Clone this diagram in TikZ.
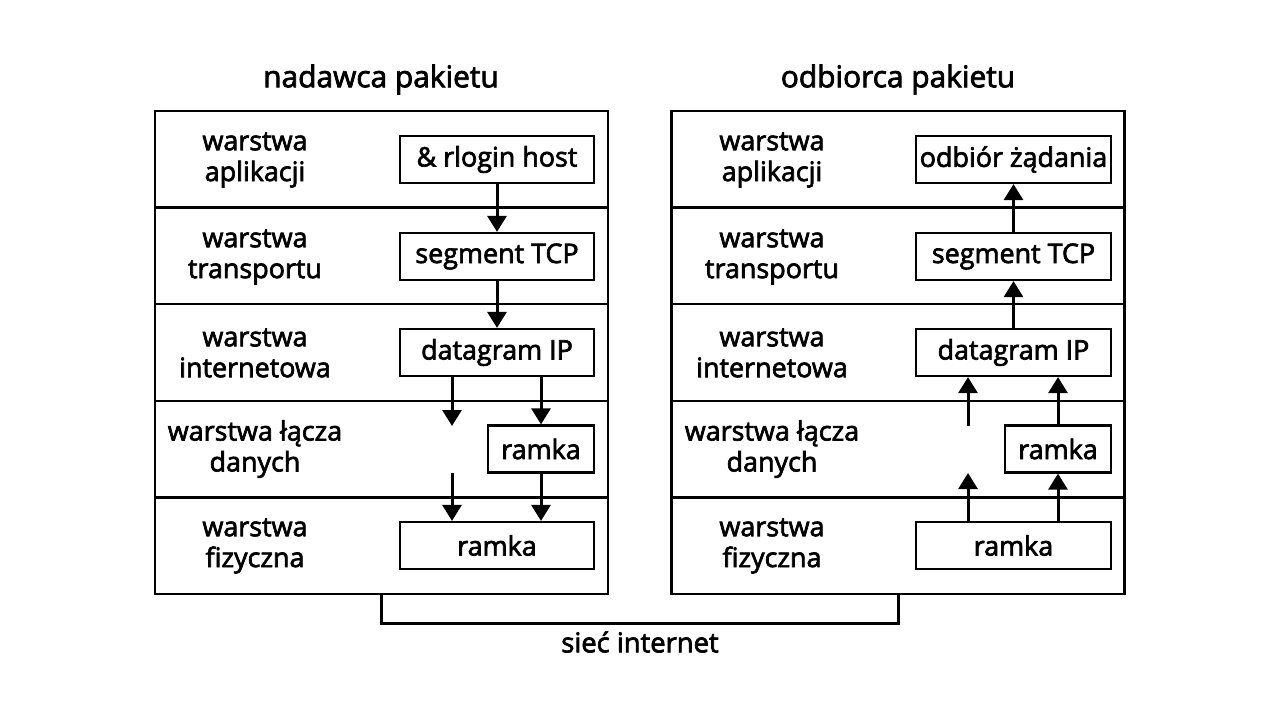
\documentclass[tikz,border=0pt]{standalone}
\usepackage{fontspec}
\setmainfont{Open Sans}[FakeBold=2.5,UprightFeatures={FakeBold=2.5}]
\usetikzlibrary{arrows.meta}
\begin{document}
\begin{tikzpicture}[x=1bp,y=-1bp,
  rowbox/.style={draw,line width=2.2bp,minimum width=453bp,minimum height=96.6bp,inner sep=0pt},
  pbox/.style={draw,line width=2.2bp,minimum height=47bp,inner sep=0pt,font=\fontsize{27}{31}\selectfont},
  lbl/.style={align=center,font=\fontsize{27}{31}\selectfont},
  ttl/.style={font=\fontsize{30}{34}\selectfont},
  arr/.style={line width=3bp,-{Triangle[width=19bp,length=16bp]}},
  ln/.style={line width=3bp}]
\useasboundingbox (0,0) rectangle (1280,720);
% titles
\node[ttl] (t1) at (381,79.5) {nadawca pakietu};
\node[ttl] (t2) at (898,79.5) {odbiorca pakietu};
% rows
\foreach \i/\y in {1/159.3,2/255.9,3/352.5,4/449.1,5/545.7}{
  \node[rowbox] (L\i) at (381.5,\y) {};
  \node[rowbox] (R\i) at (898,\y) {};
}
\node[lbl] (la1) at (255,160) {warstwa\\aplikacji};
\node[lbl] (la2) at (255,257) {warstwa\\transportu};
\node[lbl] (la3) at (255,353) {warstwa\\internetowa};
\node[lbl] (la4) at (255,449) {warstwa łącza\\danych};
\node[lbl] (la5) at (255,546) {warstwa\\fizyczna};
\node[lbl] (ra1) at (772,160) {warstwa\\aplikacji};
\node[lbl] (ra2) at (772,257) {warstwa\\transportu};
\node[lbl] (ra3) at (772,353) {warstwa\\internetowa};
\node[lbl] (ra4) at (772,449) {warstwa łącza\\danych};
\node[lbl] (ra5) at (772,546) {warstwa\\fizyczna};
% left boxes
\node[pbox,minimum width=194bp] (a1) at (497,159.5) {\& rlogin host};
\node[pbox,minimum width=194bp] (a2) at (497,256.5) {segment TCP};
\node[pbox,minimum width=194bp] (a3) at (497,352.5) {datagram IP};
\node[pbox,minimum width=106bp] (a4) at (541,449) {ramka};
\node[pbox,minimum width=194bp] (a5) at (497,545.5) {ramka};
% right boxes
\node[pbox,minimum width=195bp] (b1) at (1013.5,159.5) {odbiór żądania};
\node[pbox,minimum width=195bp] (b2) at (1013.5,256.5) {segment TCP};
\node[pbox,minimum width=195bp] (b3) at (1013.5,352.5) {datagram IP};
\node[pbox,minimum width=106bp] (b4) at (1058,449) {ramka};
\node[pbox,minimum width=195bp] (b5) at (1013.5,545.5) {ramka};
% left arrows
\draw[arr] (a1.south) -- (a2.north);
\draw[arr] (a2.south) -- (a3.north);
\coordinate (g1) at (452,426);
\coordinate (g2) at (452,473);
\draw[arr] (a3.south -| g1) -- (g1);
\draw[arr] (a3.south -| a4.north) -- (a4.north);
\draw[arr] (g2) -- (a5.north -| g2);
\draw[arr] (a4.south) -- (a5.north -| a4.south);
% right arrows
\draw[arr] (b2.north) -- (b1.south);
\draw[arr] (b3.north) -- (b2.south);
\coordinate (h1) at (968,426);
\coordinate (h2) at (968,473);
\draw[arr] (b5.north -| h2) -- (h2);
\draw[arr] (b5.north -| b4.south) -- (b4.south);
\draw[arr] (h1) -- (b3.south -| h1);
\draw[arr] (b4.north) -- (b3.south -| b4.north);
% internet link
\coordinate (c1) at (381,623);
\coordinate (c2) at (898,623);
\draw[ln] (L5.south -| c1) -- (c1) -- (c2) -- (R5.south -| c2);
\node[font=\fontsize{27.5}{31}\selectfont] (net) at (640,642) {sieć internet};
\end{tikzpicture}
\end{document}
